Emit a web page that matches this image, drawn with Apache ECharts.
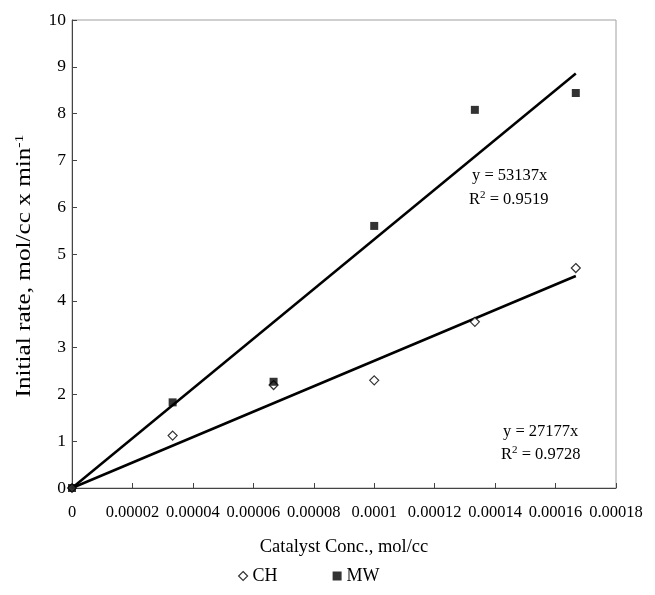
<!DOCTYPE html>
<html>
<head>
<meta charset="utf-8">
<script src="https://cdn.jsdelivr.net/npm/echarts@6/dist/echarts.min.js"></script>
<style>
  html, body { margin: 0; padding: 0; background: #fff; }
  #chart { width: 655px; height: 595px; }
</style>
</head>
<body>
<div id="chart"></div>
<script>
// Catalyst concentrations (mol/cc)
var catalystConc = [0, 0.0000333, 0.0000667, 0.0001, 0.0001333, 0.0001667];
// Initial rates, conventional heating
var rateCH = [0, 1.12, 2.2, 2.3, 3.55, 4.7];
// Initial rates, microwave
var rateMW = [0, 1.83, 2.27, 5.6, 8.08, 8.44];
// Linear fits through the origin
var slopeCH = 27177, r2CH = 0.9728;
var slopeMW = 53137, r2MW = 0.9519;
// Axis ranges
var xMax = 0.00018, xStep = 0.00002;
var yMax = 10, yStep = 1;

var font = '"Liberation Serif", "Times New Roman", serif';

function pairs(xs, ys) {
  return xs.map(function (x, i) { return [x, ys[i]]; });
}
function fitLine(slope) {
  var xEnd = catalystConc[catalystConc.length - 1];
  return [[0, 0], [xEnd, slope * xEnd]];
}
function fmtX(v) {
  if (v === 0) return '0';
  return String(parseFloat(v.toFixed(6)));
}
var supStyle = { fontFamily: font, fontSize: 11, verticalAlign: 'top', padding: [0, 0, 9, 0] };

var chart = echarts.init(document.getElementById('chart'));
chart.setOption({
  animation: false,
  backgroundColor: '#fff',
  textStyle: { fontFamily: font, color: '#000' },
  grid: { left: 72, right: 39, top: 20, bottom: 107, show: true, borderColor: '#a0a0a0', borderWidth: 1 },
  xAxis: {
    type: 'value', min: 0, max: xMax, interval: xStep,
    name: 'Catalyst Conc., mol/cc', nameLocation: 'middle', nameGap: 50,
    nameTextStyle: { fontFamily: font, fontSize: 18.5, color: '#000' },
    axisLine: { onZero: false, lineStyle: { color: '#444', width: 1 } },
    axisTick: { inside: true, length: 5, lineStyle: { color: '#444' } },
    axisLabel: { fontFamily: font, fontSize: 16.5, color: '#000', margin: 16, formatter: fmtX },
    splitLine: { show: false }
  },
  yAxis: {
    type: 'value', min: 0, max: yMax, interval: yStep,
    axisLine: { lineStyle: { color: '#444', width: 1 } },
    axisTick: { show: true, inside: true, length: 5, lineStyle: { color: '#444' } },
    axisLabel: { fontFamily: font, fontSize: 17.5, color: '#000', margin: 6 },
    splitLine: { show: false }
  },
  legend: {
    bottom: 5, left: 233, itemGap: 55, itemWidth: 9, itemHeight: 9,
    textStyle: { fontFamily: font, fontSize: 18, color: '#000' },
    data: [
      { name: 'CH', icon: 'diamond', itemStyle: { color: '#fff', borderColor: '#000', borderWidth: 1.2 } },
      { name: 'MW', icon: 'rect', itemStyle: { color: '#000' } }
    ]
  },
  series: [
    {
      name: 'CH fit', type: 'line', data: fitLine(slopeCH), symbol: 'none',
      lineStyle: { color: '#000', width: 2.5 }, z: 2, silent: true
    },
    {
      name: 'MW fit', type: 'line', data: fitLine(slopeMW), symbol: 'none',
      lineStyle: { color: '#000', width: 2.5 }, z: 2, silent: true
    },
    {
      name: 'CH', type: 'scatter', data: pairs(catalystConc, rateCH),
      symbol: 'diamond', symbolSize: 9,
      itemStyle: { color: '#fff', borderColor: '#000', borderWidth: 1.2 }, z: 3
    },
    {
      name: 'MW', type: 'scatter', data: pairs(catalystConc, rateMW),
      symbol: 'rect', symbolSize: 8,
      itemStyle: { color: '#000' }, z: 4
    }
  ],
  graphic: [
    {
      // y-axis title, set vertically and stretched along its reading direction
      type: 'text', x: 25, y: 266, rotation: Math.PI / 2, scaleX: 1.26,
      style: {
        text: 'Initial rate, mol/cc x min{sup|-1}', fontFamily: font, fontSize: 20, fill: '#000',
        align: 'center', verticalAlign: 'middle',
        rich: { sup: { fontFamily: font, fontSize: 12.5, verticalAlign: 'top', padding: [0, 0, 11, 0] } }
      }
    },
    {
      type: 'text', left: 472, top: 167,
      style: { text: 'y = ' + slopeMW + 'x', fontFamily: font, fontSize: 16.5, fill: '#000' }
    },
    {
      type: 'text', left: 469, top: 190,
      style: { text: 'R{sup|2} = ' + r2MW, fontFamily: font, fontSize: 16.5, fill: '#000', rich: { sup: supStyle } }
    },
    {
      type: 'text', left: 503, top: 423,
      style: { text: 'y = ' + slopeCH + 'x', fontFamily: font, fontSize: 16.5, fill: '#000' }
    },
    {
      type: 'text', left: 501, top: 445,
      style: { text: 'R{sup|2} = ' + r2CH, fontFamily: font, fontSize: 16.5, fill: '#000', rich: { sup: supStyle } }
    }
  ]
});
</script>
</body>
</html>
